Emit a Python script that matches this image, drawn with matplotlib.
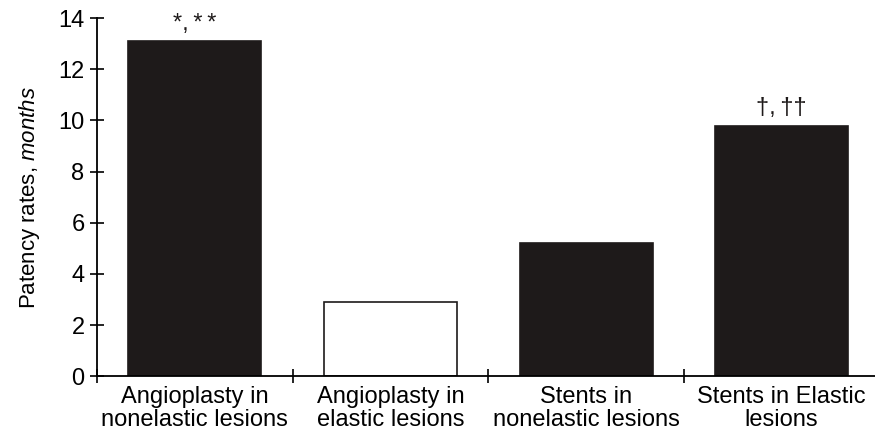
import matplotlib.pyplot as plt
import numpy as np

plt.rcParams['font.family'] = ['Liberation Sans', 'DejaVu Sans']
plt.rcParams['mathtext.fontset'] = 'custom'
plt.rcParams['mathtext.rm'] = 'Liberation Sans'
plt.rcParams['mathtext.it'] = 'Liberation Sans:italic'

categories = ["Angioplasty in\nnonelastic lesions", "Angioplasty in\nelastic lesions",
              "Stents in\nnonelastic lesions", "Stents in Elastic\nlesions"]
values = [13.1, 2.9, 5.2, 9.8]
bar_colors = ["#1e1a1a", "white", "#1e1a1a", "#1e1a1a"]
marks = ["*,\u2009*\u2009*", "", "", "\u2020,\u2009\u2020\u2020"]

fig = plt.figure(figsize=(8.75, 4.41), dpi=100)
ax = fig.add_axes([0.111, 0.147, 0.894, 0.812])

x = np.arange(len(categories))
ax.bar(x, values, width=0.68, color=bar_colors, edgecolor="#1e1a1a", linewidth=1.2)
for xi, v, m in zip(x, values, marks):
    if m:
        ax.text(xi, v + 0.25, m, ha="center", va="bottom", fontsize=17, color="#1e1a1a")

ax.set_xlim(-0.5, 3.5)
ax.set_ylim(0, 14)
ax.set_yticks(range(0, 15, 2))
ax.set_xticks([-0.5, 0.5, 1.5, 2.5])
ax.set_xticklabels([])
ax.set_xticks(x, minor=True)
ax.set_xticklabels(categories, minor=True, fontsize=17, linespacing=1.05)
ax.tick_params(axis="x", which="minor", length=0, pad=7)
ax.tick_params(axis="x", which="major", direction="inout", length=10, width=1.2)
ax.tick_params(axis="y", direction="inout", length=10, width=1.2, labelsize=17, pad=4)
ax.spines["top"].set_visible(False)
ax.spines["right"].set_visible(False)
ax.spines["left"].set_linewidth(1.3)
ax.spines["bottom"].set_linewidth(1.3)
ax.set_ylabel(r"Patency rates, $\it{months}$", fontsize=16, labelpad=12)

fig.savefig("out.png", dpi=100)
